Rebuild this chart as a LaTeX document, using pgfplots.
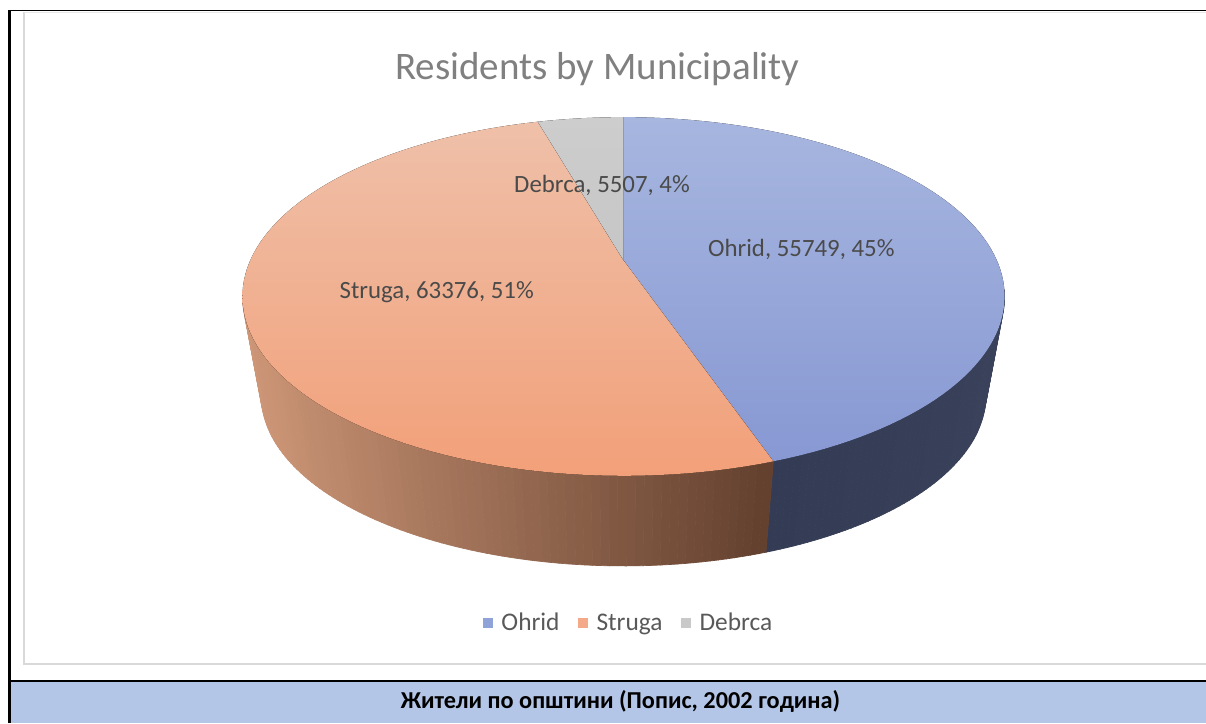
\documentclass[border=0pt]{standalone}
\usepackage{fontspec}
\setmainfont{Carlito}
\usepackage{pgfplots}
\pgfplotsset{compat=1.18}
\usepackage{pgfplotstable}

\definecolor{capbar}{HTML}{B4C6E7}
\definecolor{chartframe}{HTML}{D9D9D9}
\definecolor{titlegray}{HTML}{808080}
\definecolor{labgray}{HTML}{4A4A4A}
\definecolor{leggray}{HTML}{595959}
\definecolor{ohA}{HTML}{A7B6DF}
\definecolor{ohB}{HTML}{8798D3}
\definecolor{ohMid}{HTML}{8FA3D8}
\definecolor{stA}{HTML}{EFC0A9}
\definecolor{stB}{HTML}{F2A079}
\definecolor{stMid}{HTML}{F4AA88}
\definecolor{deA}{HTML}{CDCDCD}
\definecolor{deB}{HTML}{C6C6C6}
\definecolor{deMid}{HTML}{C9C9C9}
\definecolor{ohSL}{HTML}{343C55}
\definecolor{ohSR}{HTML}{3C445D}
\definecolor{stL}{HTML}{CD9677}
\definecolor{stD}{HTML}{64412F}

% residents by municipality, census 2002
\pgfplotstableread{
name   value
Ohrid  55749
Struga 63376
Debrca 5507
}\residents

\pgfplotstablegetelem{0}{value}\of\residents \let\vO\pgfplotsretval
\pgfplotstablegetelem{1}{value}\of\residents \let\vS\pgfplotsretval
\pgfplotstablegetelem{2}{value}\of\residents \let\vD\pgfplotsretval
% cumulative angles, clockwise from 12 o'clock
\edef\aO{\fpeval{round(360*\vO/(\vO+\vS+\vD),3)}}
\edef\aS{\fpeval{round(360*(\vO+\vS)/(\vO+\vS+\vD),3)}}

\begin{document}
\begin{tikzpicture}[declare function={
  tx(\t)=622.5+372.7*sin(\t)/(1+0.201*cos(\t));
  ty(\t)=722-(260-171.8*cos(\t)/(1+0.201*cos(\t)));
  bx(\t)=622.5+354.4*sin(\t)/(1+0.201*cos(\t));
  by(\t)=722-(360.5-163.4*cos(\t)/(1+0.201*cos(\t)));
}]
\begin{axis}[
  x=0.75pt, y=0.75pt, scale only axis,
  xmin=0, xmax=1206, ymin=0, ymax=722,
  hide axis, clip=false,
  legend columns=-1,
  legend style={at={(axis cs:628,100)}, anchor=center, draw=none, fill=none,
    font=\fontsize{19}{19}\selectfont\color{leggray},
    /tikz/every even column/.append style={column sep=12pt}},
  legend image code/.code={\fill[#1] (0pt,-3.4pt) rectangle (6.8pt,3.4pt);
    \path (11.3pt,0pt);},
]
\coordinate (LL) at (axis cs:0,0);
\coordinate (UR) at (axis cs:1206,722);
% frame and caption bar
\fill[white] (axis cs:0,0) rectangle (axis cs:1206,722);
\fill[capbar] (axis cs:10,0) rectangle (axis cs:1206,41);
\draw[chartframe, line width=1.5pt] (axis cs:24,710) -- (axis cs:24,59.5) -- (axis cs:1206,59.5);
\draw[chartframe!60, line width=1.2pt] (axis cs:24,709.5) -- (axis cs:1206,709.5);
\draw[black, line width=1.2pt] (axis cs:8,42) -- (axis cs:1206,42);
\draw[black, line width=1.2pt] (axis cs:8,711.5) -- (axis cs:1206,711.5);
\draw[black, line width=2.25pt] (axis cs:9.5,0) -- (axis cs:9.5,712.3);

% side of the pie
\pgfplotsextra{
  \foreach \i in {0,...,59} {
    \pgfmathsetmacro\ta{100+(\aO-100)/60*\i}
    \pgfmathsetmacro\tb{100+(\aO-100)/60*(\i+1)}
    \pgfmathtruncatemacro\p{100/59*\i}
    \colorlet{cc}{ohSL!\p!ohSR}
    \filldraw[fill=cc, draw=cc, line width=0.5pt]
      (axis cs:{tx(\ta)},{ty(\ta)}) -- (axis cs:{tx(\tb)},{ty(\tb)})
      -- (axis cs:{bx(\tb)},{by(\tb)}) -- (axis cs:{bx(\ta)},{by(\ta)}) -- cycle;
  }
  \foreach \i in {0,...,89} {
    \pgfmathsetmacro\ta{\aO+(259.5-\aO)/90*\i}
    \pgfmathsetmacro\tb{\aO+(259.5-\aO)/90*(\i+1)}
    \pgfmathsetmacro\xx{tx(\ta)}
    \pgfmathtruncatemacro\p{max(0,min(100,(768-\xx)/5.23))}
    \colorlet{cc}{stL!\p!stD}
    \filldraw[fill=cc, draw=cc, line width=0.5pt]
      (axis cs:{tx(\ta)},{ty(\ta)}) -- (axis cs:{tx(\tb)},{ty(\tb)})
      -- (axis cs:{bx(\tb)},{by(\tb)}) -- (axis cs:{bx(\ta)},{by(\ta)}) -- cycle;
  }
}
% top face
\pgfplotsextra{
  \fill[top color=ohA, bottom color=ohB] (axis cs:622.5,462)
    \foreach \i [evaluate=\i as \t using {\aO/90*\i}] in {0,...,90} { -- (axis cs:{tx(\t)},{ty(\t)}) } -- cycle;
  \fill[top color=stA, bottom color=stB] (axis cs:622.5,462)
    \foreach \i [evaluate=\i as \t using {\aO+(\aS-\aO)/100*\i}] in {0,...,100} { -- (axis cs:{tx(\t)},{ty(\t)}) } -- cycle;
  \fill[top color=deA, bottom color=deB] (axis cs:622.5,462)
    \foreach \i [evaluate=\i as \t using {\aS+(360-\aS)/12*\i}] in {0,...,12} { -- (axis cs:{tx(\t)},{ty(\t)}) } -- cycle;
}

\addlegendimage{ohMid}\addlegendentry{Ohrid}
\addlegendimage{stMid}\addlegendentry{Struga}
\addlegendimage{deMid}\addlegendentry{Debrca}

% labels
\node[anchor=base, text=titlegray, font=\fontsize{29.2}{29.2}\selectfont] at (axis cs:596.5,643) {Residents by Municipality};
\node[text=labgray, font=\fontsize{18.6}{18.6}\selectfont] at (axis cs:601,537) {Debrca, 5507, 4\%};
\node[text=labgray, font=\fontsize{18.6}{18.6}\selectfont] at (axis cs:800,473) {Ohrid, 55749, 45\%};
\node[text=labgray, font=\fontsize{18.6}{18.6}\selectfont] at (axis cs:436,430) {Struga, 63376, 51\%};
\node[anchor=base, font=\bfseries\fontsize{18.2}{18.2}\selectfont] at (axis cs:619.5,15) {Жители по општини (Попис, 2002 година)};
\end{axis}
\pgfresetboundingbox
\useasboundingbox (LL) rectangle ([xshift=-1.5pt]UR);
\end{tikzpicture}
\end{document}
